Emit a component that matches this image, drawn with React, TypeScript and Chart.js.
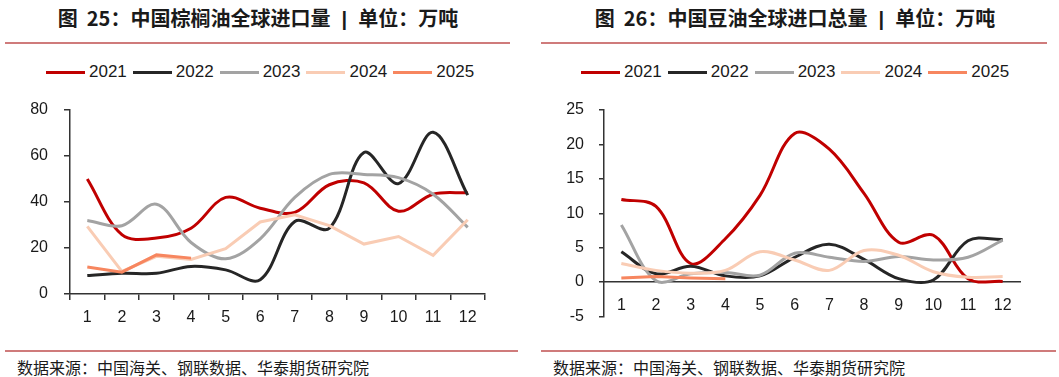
import React, { useEffect, useRef } from "react";
import { Chart, registerables } from "chart.js";

Chart.register(...registerables);

const MONTHS = ["1", "2", "3", "4", "5", "6", "7", "8", "9", "10", "11", "12"];
const YEARS = ["2021", "2022", "2023", "2024", "2025"];
const COLORS = ["#C00000", "#262626", "#A3A3A3", "#F9CCB4", "#F7865F"];

// 图25 中国棕榈油全球进口量（万吨）
const PALM_2021 = [50, 25.8, 24.3, 28.6, 42, 37.3, 35.5, 47.5, 48.3, 36, 43.4, 44];
const PALM_2022 = [8, 9, 9, 12, 10.5, 6.2, 31.5, 28.6, 61.5, 48, 70.3, 43];
const PALM_2023 = [32, 29.7, 39, 22.4, 15.3, 24, 42, 52, 52, 50.6, 43.4, 29];
const PALM_2024 = [29.4, 9.8, 16.4, 15, 19.7, 31.3, 34.4, 29.7, 21.7, 25, 16.8, 32.3];
const PALM_2025 = [11.7, 9.5, 17, 15.6];
const PALM_TICKS = { min: 0, max: 80, step: 20 };

// 图26 中国豆油全球进口总量（万吨）
const SOY_2021 = [12, 11, 2.7, 6.3, 12.6, 21.6, 19.3, 12.9, 5.8, 6.8, 0.5, 0.1];
const SOY_2022 = [4.4, 1.2, 2.3, 0.9, 0.9, 3.6, 5.5, 3.3, 0.5, 0.3, 6.0, 6.2];
const SOY_2023 = [8.3, 0.2, 1.2, 1.4, 1.0, 4.2, 3.6, 3.0, 3.7, 3.2, 3.6, 6.1];
const SOY_2024 = [2.7, 1.7, 1.3, 1.7, 4.4, 3.2, 1.7, 4.6, 3.9, 1.5, 0.7, 0.8];
const SOY_2025 = [0.6, 0.8, 0.6, 0.5];
const SOY_TICKS = { min: -5, max: 25, step: 5 };

const TICK_FONT = { family: "'Liberation Sans', Arial, sans-serif", size: 16 };
const AXIS_COLOR = "#333333";

type PanelCfg = {
  series: number[][];
  tension: number[];
  ticks: { min: number; max: number; step: number };
  zeroAxis: boolean;
  width: number;
  yWidth: number;
  padTop: number;
  padRight: number;
  padBottom: number;
  xHeight: number;
  yTickLen: number;
  yPad: number;
  xPad: number;
};

function LineChart({ cfg }: { cfg: PanelCfg }) {
  const ref = useRef<HTMLCanvasElement | null>(null);
  useEffect(() => {
    if (!ref.current) return;
    const datasets = cfg.series.map((d, i) => ({
      label: YEARS[i],
      data: d,
      borderColor: COLORS[i],
      backgroundColor: COLORS[i],
      borderWidth: 3,
      pointRadius: 0,
      tension: cfg.tension[i],
      fill: false,
      order: 10 - i,
    }));
    const xScale: any = cfg.zeroAxis
      ? {
          type: "category",
          position: { y: 0 },
          offset: true,
          grid: { display: false },
          border: { display: true, color: AXIS_COLOR, width: 1.5 },
          ticks: { color: "#1a1a1a", font: TICK_FONT, padding: cfg.xPad, maxRotation: 0, autoSkip: false },
        }
      : {
          type: "category",
          position: "bottom",
          offset: true,
          grid: {
            display: true,
            offset: true,
            drawOnChartArea: false,
            drawTicks: true,
            tickLength: 6,
            color: AXIS_COLOR,
            lineWidth: 1.5,
          },
          border: { display: true, color: AXIS_COLOR, width: 1.5 },
          ticks: { color: "#1a1a1a", font: TICK_FONT, padding: cfg.xPad, maxRotation: 0, autoSkip: false },
          afterFit: (s: any) => {
            s.height = cfg.xHeight;
          },
        };
    const chart = new Chart(ref.current, {
      type: "line",
      data: { labels: MONTHS, datasets },
      options: {
        animation: false,
        responsive: false,
        maintainAspectRatio: false,
        layout: { padding: { left: 0, right: cfg.padRight, top: cfg.padTop, bottom: cfg.padBottom } },
        plugins: { legend: { display: false }, tooltip: { enabled: false } },
        scales: {
          x: xScale,
          y: {
            type: "linear",
            min: cfg.ticks.min,
            max: cfg.ticks.max,
            grid: {
              display: true,
              drawOnChartArea: false,
              drawTicks: true,
              tickLength: cfg.yTickLen,
              color: AXIS_COLOR,
              lineWidth: 1.5,
            },
            border: { display: true, color: AXIS_COLOR, width: 1.5 },
            ticks: { stepSize: cfg.ticks.step, color: "#1a1a1a", font: TICK_FONT, padding: cfg.yPad },
            afterFit: (s: any) => {
              s.width = cfg.yWidth;
              s.paddingTop = 0;
              s.paddingBottom = 0;
            },
          },
        },
      },
    });
    return () => chart.destroy();
  }, [cfg]);
  return <canvas ref={ref} width={cfg.width} height={230} style={{ display: "block" }} />;
}

function Legend({ left }: { left: number }) {
  return (
    <div
      style={{
        position: "absolute",
        left,
        top: 61,
        height: 22,
        display: "flex",
        alignItems: "center",
        fontFamily: "'Liberation Sans', Arial, sans-serif",
        fontSize: 17,
        color: "#1a1a1a",
        whiteSpace: "nowrap",
      }}
    >
      {YEARS.map((y, i) => (
        <div key={y} style={{ display: "flex", alignItems: "center", marginRight: 6 }}>
          <div style={{ width: 39, height: 3, background: COLORS[i], marginRight: 4 }} />
          <span>{y}</span>
        </div>
      ))}
    </div>
  );
}

const TITLE_FONT = "'Noto Sans CJK SC', 'Noto Sans', sans-serif";
const LINE_COLOR = "#CF7B7B";

function Panel(props: {
  left: number;
  width: number;
  titleA: string;
  titleB: string;
  titleCenter: number;
  lineL: number;
  lineR: number;
  footL: number;
  footR: number;
  legendLeft: number;
  cfg: PanelCfg;
}) {
  const { left, width, titleA, titleB, titleCenter, lineL, lineR, footL, footR, legendLeft, cfg } = props;
  return (
    <>
      <div
        style={{
          position: "absolute",
          left: titleCenter - 300,
          width: 600,
          top: 3,
          textAlign: "center",
          fontFamily: TITLE_FONT,
          fontWeight: 700,
          fontSize: 20,
          color: "#1a1a1a",
          whiteSpace: "pre",
        }}
      >
        {titleA}
        <span style={{ fontFamily: "'Liberation Sans', Arial, sans-serif", fontWeight: 700 }}>{"  |  "}</span>
        {titleB}
      </div>
      <div style={{ position: "absolute", left: lineL, width: lineR - lineL, top: 42, height: 1.5, background: LINE_COLOR }} />
      <Legend left={legendLeft} />
      <div style={{ position: "absolute", left, top: 100, width, height: 230 }}>
        <LineChart cfg={cfg} />
      </div>
      <div style={{ position: "absolute", left: footL, width: footR - footL, top: 350, height: 2, background: LINE_COLOR }} />
      <div
        style={{
          position: "absolute",
          left: footL + 12,
          top: 355,
          fontFamily: TITLE_FONT,
          fontSize: 16,
          color: "#1a1a1a",
          whiteSpace: "nowrap",
        }}
      >
        数据来源：中国海关、钢联数据、华泰期货研究院
      </div>
    </>
  );
}

const LEFT_CFG: PanelCfg = {
  series: [PALM_2021, PALM_2022, PALM_2023, PALM_2024, PALM_2025],
  tension: [0.35, 0.35, 0.35, 0, 0],
  ticks: PALM_TICKS,
  zeroAxis: false,
  width: 530,
  yWidth: 70,
  padTop: 10,
  padRight: 45,
  padBottom: 0,
  xHeight: 36,
  yTickLen: 6,
  yPad: 16,
  xPad: 8,
};

const RIGHT_CFG: PanelCfg = {
  series: [SOY_2021, SOY_2022, SOY_2023, SOY_2024, SOY_2025],
  tension: [0.35, 0.35, 0.35, 0.35, 0],
  ticks: SOY_TICKS,
  zeroAxis: true,
  width: 529,
  yWidth: 74,
  padTop: 10,
  padRight: 39,
  padBottom: 13.5,
  xHeight: 0,
  yTickLen: 5,
  yPad: 15,
  xPad: 6,
};

export default function App() {
  return (
    <div
      style={{
        position: "fixed",
        left: 0,
        top: 0,
        width: 1059,
        height: 377,
        background: "#ffffff",
        overflow: "hidden",
      }}
    >
      <Panel
        left={0}
        width={530}
        titleA={"图  25：中国棕榈油全球进口量"}
        titleB={"单位：万吨"}
        titleCenter={258}
        lineL={5}
        lineR={510}
        footL={5}
        footR={518}
        legendLeft={46}
        cfg={LEFT_CFG}
      />
      <Panel
        left={530}
        width={529}
        titleA={"图  26：中国豆油全球进口总量"}
        titleB={"单位：万吨"}
        titleCenter={795}
        lineL={541}
        lineR={1047}
        footL={541}
        footR={1056}
        legendLeft={581}
        cfg={RIGHT_CFG}
      />
    </div>
  );
}
